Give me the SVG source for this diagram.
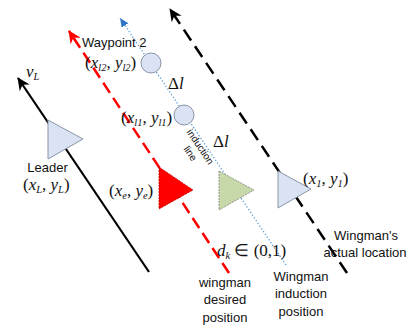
<svg xmlns="http://www.w3.org/2000/svg" width="408" height="331" viewBox="0 0 408 331">
<style>
.t{font-family:"Liberation Sans",Arial,sans-serif;font-size:13px;fill:#111}
.m{font-family:"Liberation Serif","Times New Roman",serif;font-size:17px;fill:#111}
.i{font-style:italic}
.s{font-size:10.5px;font-style:italic}
.tri{stroke:#8a96a6;stroke-width:1}
</style>
<defs>
<marker id="ak" markerUnits="userSpaceOnUse" markerWidth="14" markerHeight="12" refX="12" refY="6" orient="auto"><path d="M0,0 L13,6 L0,12 L4,6 z" fill="#000"/></marker>
<marker id="ar" markerUnits="userSpaceOnUse" markerWidth="14" markerHeight="12" refX="12" refY="6" orient="auto"><path d="M0,0 L13,6 L0,12 L4,6 z" fill="#ff0000"/></marker>
<marker id="ab" markerUnits="userSpaceOnUse" markerWidth="10" markerHeight="8" refX="9" refY="4" orient="auto"><path d="M0,0 L9,4 L0,8 z" fill="#2e75c6"/></marker>
</defs>
<rect width="408" height="331" fill="#fff"/>
<g id="connectors" fill="none">
<line x1="149" y1="272" x2="18" y2="78" stroke="#000" stroke-width="2.2" marker-end="url(#ak)"/>
<line x1="229" y1="273" x2="69" y2="31" stroke="#ff0000" stroke-width="2.5" stroke-dasharray="12,6" marker-end="url(#ar)"/>
<line x1="347" y1="273" x2="170" y2="9" stroke="#000" stroke-width="2.5" stroke-dasharray="13,7" marker-end="url(#ak)"/>
<line x1="286" y1="265" x2="120" y2="18" stroke="#5b9bd5" stroke-width="1.3" stroke-dasharray="1.3,2" marker-end="url(#ab)"/>
</g>
<g id="leader">
<polygon class="tri" points="48,120 48,159 83,139" fill="#dae3f3"/>
<text class="m i" x="26" y="77">v<tspan class="s" dy="3">L</tspan></text>
<text class="t" x="47.5" y="172" text-anchor="middle">Leader</text>
<text class="m" x="23" y="190">(<tspan class="i">x</tspan><tspan class="s" dy="3">L</tspan><tspan dy="-3">, </tspan><tspan class="i">y</tspan><tspan class="s" dy="3">L</tspan><tspan dy="-3">)</tspan></text>
</g>
<g id="waypoint2">
<circle cx="151" cy="63" r="10" fill="#dae3f3" stroke="#8a96a6" stroke-width="1"/>
<text class="t" x="82" y="47">Waypoint 2</text>
<text class="m" x="85" y="68">(<tspan class="i">x</tspan><tspan class="s" dy="3">l2</tspan><tspan dy="-3">, </tspan><tspan class="i">y</tspan><tspan class="s" dy="3">l2</tspan><tspan dy="-3">)</tspan></text>
</g>
<g id="waypoint1">
<circle cx="184" cy="115" r="10" fill="#dae3f3" stroke="#8a96a6" stroke-width="1"/>
<text class="m" x="121" y="123">(<tspan class="i">x</tspan><tspan class="s" dy="3">l1</tspan><tspan dy="-3">, </tspan><tspan class="i">y</tspan><tspan class="s" dy="3">l1</tspan><tspan dy="-3">)</tspan></text>
<text class="m" x="168" y="89">Δ<tspan class="i">l</tspan></text>
</g>
<g id="induction-line-label">
<text class="m" x="213" y="147">Δ<tspan class="i">l</tspan></text>
<text class="t" style="font-size:10px" text-anchor="middle" transform="translate(200,147) rotate(56)"><tspan x="0" y="3">induction</tspan><tspan x="0" y="15">line</tspan></text>
</g>
<g id="desired">
<polygon points="159,167 159,209 193,190" fill="#ff0000" stroke="#c00000" stroke-width="0.8" stroke-dasharray="2,1"/>
<text class="m" x="109" y="196">(<tspan class="i">x</tspan><tspan class="s" dy="3">e</tspan><tspan dy="-3">, </tspan><tspan class="i">y</tspan><tspan class="s" dy="3">e</tspan><tspan dy="-3">)</tspan></text>
<text class="t" x="225" y="287" text-anchor="middle">wingman</text>
<text class="t" x="225" y="304" text-anchor="middle">desired</text>
<text class="t" x="225" y="322" text-anchor="middle">position</text>
<text class="m" x="217" y="256"><tspan class="i">d</tspan><tspan class="s" dy="3">k</tspan><tspan dy="-3"> ∈ (0,1)</tspan></text>
</g>
<g id="induction">
<polygon points="219,171 219,210 254,190" fill="#c8d9a9" stroke="#7f7f7f" stroke-width="0.8" stroke-dasharray="2,1"/>
<text class="t" x="301" y="281" text-anchor="middle">Wingman</text>
<text class="t" x="301" y="298" text-anchor="middle">induction</text>
<text class="t" x="301" y="316" text-anchor="middle">position</text>
</g>
<g id="actual">
<polygon class="tri" points="278,171 278,208 311,189" fill="#dae3f3"/>
<text class="m" x="303" y="184">(<tspan class="i">x</tspan><tspan class="s" dy="3">1</tspan><tspan dy="-3">, </tspan><tspan class="i">y</tspan><tspan class="s" dy="3">1</tspan><tspan dy="-3">)</tspan></text>
<text class="t" x="366" y="240" text-anchor="middle">Wingman's</text>
<text class="t" x="365" y="257" text-anchor="middle">actual location</text>
</g>
</svg>
